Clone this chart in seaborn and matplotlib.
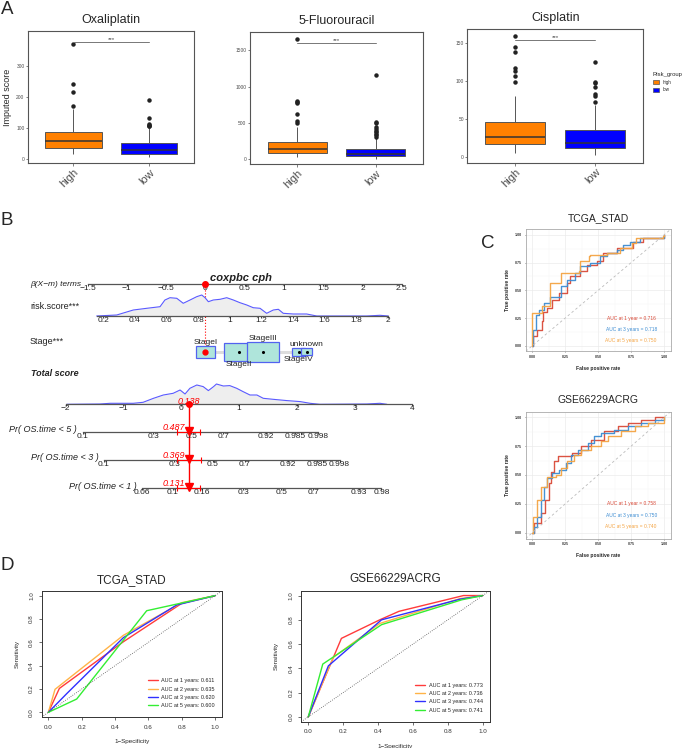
import matplotlib
matplotlib.use("Agg")
import matplotlib.pyplot as plt
import numpy as np
import pandas as pd
import seaborn as sns
from matplotlib.patches import Patch, Rectangle
from matplotlib.ticker import NullLocator

sns.set_theme(style="white")
plt.rcParams["font.family"] = ["Liberation Sans", "DejaVu Sans"]

W, H = 685, 748

# %% data -- panel A (whisker low, Q1, median, Q3, whisker high) + outliers
groups = ["high", "low"]
drugs = ["Oxaliplatin", "5-Fluorouracil", "Cisplatin"]
oxa_high = [15, 34, 57, 86, 160]
oxa_high_out = [171, 217, 241, 370]
oxa_low = [5, 17, 28, 52, 100]
oxa_low_out = [106, 108, 110, 113, 133, 190]
fu_high = [27, 87, 142, 238, 449]
fu_high_out = [500, 530, 620, 770, 790, 800, 1650]
fu_low = [8, 41, 69, 142, 290]
fu_low_out = [310, 330, 350, 370, 390, 420, 440, 500, 520, 1160]
cis_high = [5, 17, 27, 46, 80]
cis_high_out = [99, 107, 113, 117, 139, 145, 160]
cis_low = [2, 12, 19, 35, 68]
cis_low_out = [72, 81, 83, 92, 97, 99, 125]
sig_y = [378, 1600, 154]
a_yticks = [[0, 100, 200, 300], [0, 500, 1000, 1500], [0, 50, 100, 150]]
a_ylims = [(-13, 413), (-65, 1749), (-7.5, 168.5)]

# %% data -- panel B nomogram
beta_ticks = [-1.5, -1, -0.5, 0, 0.5, 1, 1.5, 2, 2.5]
beta_labels = ["\u22121.5", "\u22121", "\u22120.5", "0", "0.5", "1", "1.5", "2", "2.5"]
risk_ticks = [0.2, 0.4, 0.6, 0.8, 1.0, 1.2, 1.4, 1.6, 1.8, 2.0]
risk_labels = ["0.2", "0.4", "0.6", "0.8", "1", "1.2", "1.4", "1.6", "1.8", "2"]
risk_x = [0.158, 0.285, 0.39, 0.475, 0.559, 0.59, 0.622, 0.665, 0.706, 0.749, 0.791,
          0.823, 0.844, 0.865, 0.896, 0.939, 0.981, 1.023, 1.065, 1.108, 1.149, 1.192,
          1.234, 1.276, 1.308, 1.339, 1.403, 1.487, 1.551, 1.867, 1.951, 2.004]
risk_dens = [0, 1.0, 6, 7.7, 9.3, 16, 18.3, 17.7, 12.7, 16, 19.3, 21, 18.3, 14.3, 16,
             16.7, 18.3, 16, 13.3, 11, 8.3, 7.7, 2.7, 6, 6.7, 2.7, 2, 2, 0, 0, 0.7, 0]
stage_levels = ["StageI", "StageII", "StageIII", "StageIV", "unknown"]
stage_beta = [0.0, 0.43, 0.735, 1.19, 1.29]
stage_n = [57, 139, 162, 25, 19]
total_ticks = [-2, -1, 0, 1, 2, 3, 4]
total_labels = ["\u22122", "\u22121", "0", "1", "2", "3", "4"]
total_x = [-1.98, -1.41, -1.23, -0.83, -0.66, -0.48, -0.31, -0.14, -0.02, 0.066, 0.15,
           0.27, 0.38, 0.47, 0.56, 0.61, 0.73, 0.84, 0.96, 1.07, 1.19, 1.31, 1.42, 1.59,
           1.83, 2.06, 2.23, 2.40, 3.21, 3.44, 3.56]
total_dens = [0, 0.3, 1, 1, 2, 6, 9.3, 11, 14.3, 10.3, 16, 19.3, 17.7, 13.7, 17.7, 20.3,
              18.3, 18.7, 16, 12.7, 9.3, 9.3, 6, 5, 3.7, 2.7, 1, 0, 0.3, 1, 0]
pt_beta = 0.0
pt_total = 0.138
pr_years = [5, 3, 1]
pr_pred = [0.487, 0.369, 0.131]
pr_lo = [0.42, 0.31, 0.107]
pr_hi = [0.55, 0.43, 0.156]
pr5_ticks = [0.1, 0.3, 0.5, 0.7, 0.92, 0.985, 0.998]
pr3_ticks = [0.1, 0.3, 0.5, 0.7, 0.92, 0.985, 0.998]
pr1_ticks = [0.06, 0.1, 0.16, 0.3, 0.5, 0.7, 0.93, 0.98]

# %% data -- panel C time-dependent ROC (timeROC style)
tcga_fpr1 = [0, 0.008, 0.038, 0.075, 0.083, 0.113, 0.15, 0.2, 0.264, 0.289, 0.364, 0.414, 0.49, 0.54, 0.64, 0.766, 0.84, 1.0]
tcga_tpr1 = [0, 0.084, 0.144, 0.219, 0.300, 0.339, 0.414, 0.474, 0.565, 0.625, 0.670, 0.730, 0.760, 0.835, 0.880, 0.931, 0.976, 1.0]
tcga_fpr3 = [0, 0.008, 0.025, 0.05, 0.088, 0.138, 0.214, 0.264, 0.327, 0.364, 0.44, 0.515, 0.565, 0.64, 0.69, 0.74, 0.816, 1.0]
tcga_tpr3 = [0, 0.144, 0.279, 0.324, 0.384, 0.444, 0.535, 0.595, 0.655, 0.715, 0.745, 0.805, 0.835, 0.865, 0.91, 0.94, 0.97, 1.0]
tcga_fpr5 = [0, 0, 0.075, 0.075, 0.138, 0.138, 0.214, 0.214, 0.352, 0.364, 0.427, 0.44, 0.565, 0.665, 0.754, 0.79, 0.99, 1.0]
tcga_tpr5 = [0, 0.294, 0.294, 0.354, 0.354, 0.565, 0.565, 0.655, 0.670, 0.760, 0.805, 0.820, 0.835, 0.880, 0.925, 0.976, 0.994, 1.0]
acrg_fpr1 = [0, 0.013, 0.063, 0.1, 0.127, 0.14, 0.165, 0.195, 0.279, 0.305, 0.368, 0.445, 0.547, 0.649, 0.725, 0.827, 0.929, 1.0]
acrg_tpr1 = [0, 0.08, 0.168, 0.284, 0.43, 0.53, 0.617, 0.667, 0.667, 0.69, 0.748, 0.806, 0.878, 0.922, 0.95, 0.98, 1.0, 1.0]
acrg_fpr3 = [0, 0.013, 0.038, 0.063, 0.089, 0.114, 0.152, 0.203, 0.254, 0.292, 0.343, 0.42, 0.47, 0.522, 0.623, 0.725, 0.827, 0.929, 1.0]
acrg_tpr3 = [0, 0.052, 0.139, 0.284, 0.4, 0.472, 0.516, 0.545, 0.603, 0.675, 0.719, 0.777, 0.835, 0.864, 0.893, 0.928, 0.951, 0.974, 1.0]
acrg_fpr5 = [0, 0.008, 0.038, 0.063, 0.114, 0.178, 0.216, 0.267, 0.318, 0.368, 0.445, 0.522, 0.572, 0.674, 0.776, 0.878, 1.0]
acrg_tpr5 = [0, 0.139, 0.284, 0.4, 0.487, 0.501, 0.559, 0.617, 0.675, 0.719, 0.748, 0.791, 0.835, 0.878, 0.922, 0.951, 1.0]
tcga_auc_c = ["AUC at 1 year = 0.716", "AUC at 3 years = 0.718", "AUC at 5 years = 0.750"]
acrg_auc_c = ["AUC at 1 year = 0.758", "AUC at 3 years = 0.750", "AUC at 5 years = 0.740"]

# %% data -- panel D survivalROC curves
d_tcga_fpr = [[0, 0.066, 0.45, 0.80, 1], [0, 0.04, 0.45, 0.80, 1], [0, 0.11, 0.45, 0.77, 1], [0, 0.17, 0.59, 1]]
d_tcga_tpr = [[0, 0.205, 0.605, 0.934, 1], [0, 0.197, 0.66, 0.94, 1], [0, 0.16, 0.64, 0.92, 1], [0, 0.114, 0.871, 1]]
d_acrg_fpr = [[0, 0.19, 0.41, 0.52, 0.89, 1], [0, 0.143, 0.41, 0.87, 1], [0, 0.115, 0.42, 0.87, 1], [0, 0.083, 0.42, 0.88, 1]]
d_acrg_tpr = [[0, 0.647, 0.80, 0.87, 1.0, 1], [0, 0.49, 0.77, 0.975, 1], [0, 0.42, 0.80, 0.97, 1], [0, 0.435, 0.76, 0.965, 1]]
d_years = [1, 2, 3, 5]
d_tcga_auc = [0.611, 0.635, 0.620, 0.600]
d_acrg_auc = [0.773, 0.736, 0.744, 0.741]

fig = plt.figure(figsize=(W / 100, H / 100), dpi=100)


def px_axes(x0, y0, x1, y1):
    return fig.add_axes([x0 / W, 1 - y1 / H, (x1 - x0) / W, (y1 - y0) / H])


def expand(stats, outliers):
    # sample whose quartiles / whiskers reproduce the box summary
    lo, q1, med, q3, hi = stats
    m = len(outliers) + 2
    return ([lo] + [q1] * m + [med] * m + [q3] * m + [q3] * (m - len(outliers) - 1)
            + [hi] + list(outliers))


# %% panel A
pal = {"high": "#FF8000", "low": "#0000FF"}
box_pos = [(28, 31, 194.3, 163), (250, 32.3, 422.7, 164), (467.3, 29.3, 643.3, 162.7)]
box_data = [(oxa_high, oxa_high_out, oxa_low, oxa_low_out),
            (fu_high, fu_high_out, fu_low, fu_low_out),
            (cis_high, cis_high_out, cis_low, cis_low_out)]
for i, drug in enumerate(drugs):
    hs, ho, ls, lo = box_data[i]
    hv, lv = expand(hs, ho), expand(ls, lo)
    df = pd.DataFrame({"group": ["high"] * len(hv) + ["low"] * len(lv), "score": hv + lv})
    ax = px_axes(*box_pos[i])
    sns.boxplot(data=df, x="group", y="score", hue="group", order=groups, hue_order=groups,
                palette=pal, saturation=1, width=0.75, dodge=False, linecolor="#555555",
                linewidth=0.7,
                flierprops=dict(marker="o", markersize=2.2, markerfacecolor="#222222",
                                markeredgecolor="#222222"),
                medianprops=dict(color="#333333", linewidth=1.1),
                capprops=dict(linewidth=0), legend=False, ax=ax)
    ax.plot([0, 1], [sig_y[i], sig_y[i]], color="#777777", lw=0.7)
    ax.text(0.5, sig_y[i], "***", ha="center", va="bottom", fontsize=4.5, color="#444444")
    ax.set_xlim(-0.6, 1.6)
    ax.set_ylim(*a_ylims[i])
    ax.set_yticks(a_yticks[i], [str(t) for t in a_yticks[i]])
    ax.set_xticks([0, 1], groups, rotation=45, ha="right", rotation_mode="anchor")
    ax.tick_params(axis="x", bottom=True, length=2, width=0.5, labelsize=8, colors="#4D4D4D", pad=1)
    ax.tick_params(axis="y", left=True, length=1.5, width=0.5, labelsize=3.5, colors="#4D4D4D", pad=1)
    for s in ax.spines.values():
        s.set_color("#555555")
        s.set_linewidth(0.8)
    ax.set_xlabel("")
    ax.set_ylabel("Imputed score" if i == 0 else "", fontsize=6.5, labelpad=3)
    ax.set_title(drug, fontsize=9, pad=6)

handles = [Patch(facecolor=pal[g], edgecolor="#555555", linewidth=0.5) for g in groups]
leg = fig.legend(handles, groups, title="Risk_group", loc="upper left",
                 bbox_to_anchor=(651 / W, 1 - 70 / H), frameon=False, fontsize=3.3,
                 title_fontsize=4.2, handlelength=1.4, handleheight=1.0, labelspacing=0.6,
                 borderaxespad=0.2, borderpad=0.2)
leg._legend_box.align = "left"

# %% panel B nomogram
BETA_P = (-1.5, 87.5, 2.5, 401.7)
RISK_P = (0.2, 103.3, 2.0, 387.7)
TOT_P = (-2, 65.7, 4, 412.3)
Y_BETA, Y_RISK, Y_STAGE, Y_TOT = 284.3, 316, 351.7, 404.3
Y_PR = [432, 460, 488.3]
LINE = "#555555"


def scale_lim(v1, p1, v2, p2, x0, x1):
    s = (p2 - p1) / (v2 - v1)
    return v1 + (x0 - p1) / s, v1 + (x1 - p1) / s


def nomo_axes(y0, y1, x0=0, x1=420):
    ax = px_axes(x0, y0, x1, y1)
    ax.set_ylim(y1, y0)
    ax.patch.set_alpha(0)
    for s in ["top", "left", "right"]:
        ax.spines[s].set_visible(False)
    ax.tick_params(axis="y", left=False, labelleft=False)
    return ax


def nomo_scale(ax, yline, lo, hi, ticks, labels):
    sp = ax.spines["bottom"]
    sp.set_position(("data", yline))
    sp.set_bounds(lo, hi)
    sp.set_color(LINE)
    sp.set_linewidth(0.9)
    ax.set_xticks(ticks, labels)
    ax.xaxis.set_minor_locator(NullLocator())
    ax.tick_params(axis="x", bottom=True, length=1.5, width=0.6, pad=-1.0, labelsize=6,
                   colors="#222222")


# beta + stage rows share the beta scale
ax_b = nomo_axes(262, 370)
ax_b.set_xlim(*scale_lim(*BETA_P, 0, 420))
nomo_scale(ax_b, Y_BETA, beta_ticks[0], beta_ticks[-1], beta_ticks, beta_labels)
ax_b.plot([pt_beta, pt_beta], [Y_BETA, Y_STAGE], color="red", lw=0.8, ls=":", zorder=2)
ax_b.plot(pt_beta, Y_BETA, "o", color="red", ms=4, zorder=6, clip_on=False)
bscale = (BETA_P[3] - BETA_P[1]) / (BETA_P[2] - BETA_P[0])
ax_b.plot([stage_beta[0], stage_beta[-1]], [Y_STAGE, Y_STAGE], color="#DDDDDD", lw=2.2, zorder=1)
for k, (lev, b, n) in enumerate(zip(stage_levels, stage_beta, stage_n)):
    area = n * 3.96
    w = np.sqrt(area * 1.65)
    h = area / w
    ax_b.add_patch(Rectangle((b - w / bscale / 2, Y_STAGE - h / 2), w / bscale, h,
                             facecolor="#AFE5DB", edgecolor="#5262F0", lw=0.9, zorder=3))
    if k % 2 == 0:
        ax_b.text(b, Y_STAGE - h / 2 - 0.3, lev, ha="center", va="bottom", fontsize=6, color="#222222", zorder=5)
    else:
        ax_b.text(b, Y_STAGE + h / 2 + 0.3, lev, ha="center", va="top", fontsize=6, color="#222222", zorder=5)
ax_b.scatter(stage_beta, [Y_STAGE] * len(stage_beta), s=1.5, color="black", zorder=4)
ax_b.plot(pt_beta, Y_STAGE, "o", color="red", ms=3.5, zorder=6)

# risk score density row
ax_r = nomo_axes(290, 326)
ax_r.set_xlim(*scale_lim(*RISK_P, 0, 420))
nomo_scale(ax_r, Y_RISK, risk_x[0], risk_ticks[-1], risk_ticks, risk_labels)
ax_r.fill_between(risk_x, [Y_RISK - d for d in risk_dens], Y_RISK, color="#EEEEEE", lw=0)
ax_r.plot(risk_x, [Y_RISK - d for d in risk_dens], color="#5A5AFF", lw=0.8)

# total score row
ax_t = nomo_axes(378, 495)
ax_t.set_xlim(*scale_lim(*TOT_P, 0, 420))
nomo_scale(ax_t, Y_TOT, total_ticks[0], total_ticks[-1], total_ticks, total_labels)
ax_t.fill_between(total_x, [Y_TOT - d for d in total_dens], Y_TOT, color="#EEEEEE", lw=0)
ax_t.plot(total_x, [Y_TOT - d for d in total_dens], color="#5A5AFF", lw=0.8)
ax_t.plot([pt_total, pt_total], [Y_TOT, Y_PR[-1]], color="red", lw=1, zorder=3)
ax_t.plot(pt_total, Y_TOT, "o", color="red", ms=4, zorder=6)
ax_t.annotate(f"{pt_total:.3f}", (pt_total, Y_TOT), xytext=(0, 2), textcoords="offset points",
              ha="center", va="center", color="red", style="italic", fontsize=6.5, zorder=7)


def cll(p):
    return np.log(-np.log1p(-p))


pr_tick_sets = [pr5_ticks, pr3_ticks, pr1_ticks]
pr_extent = [(10, 345), (10, 365), (10, 415)]
for j, yr in enumerate(pr_years):
    c = cll(pr_pred[j]) - pt_total

    def fwd(p, c=c):
        p = np.clip(p, 1e-12, 1 - 1e-12)
        return np.log(-np.log1p(-p)) - c

    def inv(t, c=c):
        return -np.expm1(-np.exp(t + c))

    x0, x1 = pr_extent[j]
    y = Y_PR[j]
    ax = nomo_axes(y - 14, y + 10, x0, x1)
    ax.set_xscale("function", functions=(fwd, inv))
    t0, t1 = scale_lim(*TOT_P, x0, x1)
    ax.set_xlim(inv(t0), inv(t1))
    tk = pr_tick_sets[j]
    nomo_scale(ax, y, tk[0], tk[-1], tk, [f"{t:g}" for t in tk])
    ax.errorbar(pr_pred[j], y, xerr=[[pr_pred[j] - pr_lo[j]], [pr_hi[j] - pr_pred[j]]],
                fmt="none", ecolor="red", elinewidth=0.8, capsize=2.5, capthick=0.8, zorder=4)
    ax.plot(pr_pred[j], y - 1, marker="v", color="red", ms=5.5, zorder=5)
    ax.annotate(f"{pr_pred[j]:.3f}", (pr_pred[j], y), xytext=(-3, 0), textcoords="offset points",
                ha="right", va="bottom", color="red", style="italic", fontsize=6.5)
    ax.annotate(f"Pr( OS.time < {yr} )", (tk[0], y), xytext=(-4, 1.5), textcoords="offset points",
                ha="right", va="center", style="italic", fontsize=6.5, color="#222222")

fig.text(30 / W, 1 - Y_BETA / H, "\u03b2(X\u2212m) terms", style="italic", fontsize=6, va="center", color="#222222")
fig.text(30 / W, 1 - 306.7 / H, "risk.score***", fontsize=6.5, va="center", color="#222222")
fig.text(30 / W, 1 - 341.7 / H, "Stage***", fontsize=6.5, va="center", color="#222222")
fig.text(31 / W, 1 - 373.7 / H, "Total score", fontsize=6.5, va="center", style="italic",
         fontweight="bold", color="#222222")
fig.text(241 / W, 1 - 277.7 / H, "coxpbc cph", fontsize=8, ha="center", va="center",
         style="italic", fontweight="bold", color="#222222")

# %% panel C
roc_cols = ["#D94A38", "#3C8CD2", "#F4A443"]


def ggroc(ax, curves, aucs, title):
    for (f, t), col in zip(curves, roc_cols):
        sns.lineplot(x=f, y=t, ax=ax, color=col, lw=1, estimator=None, sort=False,
                     drawstyle="steps-post", alpha=0.95)
    ax.axline((0, 0), slope=1, ls=(0, (3, 3)), color="#BBBBBB", lw=0.6)
    ax.set_xlim(-0.05, 1.05)
    ax.set_ylim(-0.05, 1.05)
    ticks = [0, 0.25, 0.5, 0.75, 1]
    labs = ["0.00", "0.25", "0.50", "0.75", "1.00"]
    ax.set_xticks(ticks, labs, fontweight="bold")
    ax.set_yticks(ticks, labs, fontweight="bold")
    ax.set_xticks([0.125, 0.375, 0.625, 0.875], minor=True)
    ax.set_yticks([0.125, 0.375, 0.625, 0.875], minor=True)
    ax.grid(which="major", color="#EBEBEB", lw=0.5)
    ax.grid(which="minor", color="#F5F5F5", lw=0.3)
    ax.set_axisbelow(True)
    ax.tick_params(which="major", bottom=True, left=True, length=1, width=0.4, labelsize=2.6,
                   colors="#333333", pad=1.5)
    ax.tick_params(which="minor", bottom=False, left=False)
    for s in ax.spines.values():
        s.set_color("#AAAAAA")
        s.set_linewidth(0.6)
    ax.set_xlabel("False positive rate", fontsize=3.6, fontweight="bold", labelpad=3)
    ax.set_ylabel("True positive rate", fontsize=3.6, fontweight="bold", labelpad=4)
    ax.set_title(title, fontsize=7.5, pad=6)
    for k, (txt, col) in enumerate(zip(aucs, roc_cols)):
        ax.text(0.75, 0.25 - 0.1 * k, txt, color=col, fontsize=3.5, ha="center", va="center")


ax_c1 = px_axes(525.7, 229.3, 670.7, 351.3)
ggroc(ax_c1, [(tcga_fpr1, tcga_tpr1), (tcga_fpr3, tcga_tpr3), (tcga_fpr5, tcga_tpr5)], tcga_auc_c, "TCGA_STAD")
ax_c2 = px_axes(525.7, 411.5, 670.7, 538.5)
ggroc(ax_c2, [(acrg_fpr1, acrg_tpr1), (acrg_fpr3, acrg_tpr3), (acrg_fpr5, acrg_tpr5)], acrg_auc_c, "GSE66229ACRG")

# %% panel D
d_cols = ["#FF3B3B", "#FFB347", "#3030FF", "#33EE33"]


def rroc(ax, fprs, tprs, aucs, title):
    for f, t, col, yr, a in zip(fprs, tprs, d_cols, d_years, aucs):
        sns.lineplot(x=f, y=t, ax=ax, color=col, lw=1, estimator=None, sort=False,
                     label=f"AUC at {yr} years: {a:.3f}")
    ax.axline((0, 0), slope=1, ls=":", color="#555555", lw=0.6)
    ax.set_xlim(-0.04, 1.04)
    ax.set_ylim(-0.04, 1.04)
    ticks = [0, 0.2, 0.4, 0.6, 0.8, 1.0]
    labs = [f"{t:.1f}" for t in ticks]
    ax.set_xticks(ticks, labs)
    ax.set_yticks(ticks, labs, rotation=90, va="center")
    ax.tick_params(bottom=True, left=True, length=2.5, width=0.5, labelsize=4.5,
                   colors="#333333", pad=3)
    for s in ax.spines.values():
        s.set_color("#333333")
        s.set_linewidth(0.7)
    ax.set_xlabel("1\u2212Specificity", fontsize=4.5, labelpad=7)
    ax.set_ylabel("Sensitivity", fontsize=4.5, labelpad=7)
    ax.set_title(title, fontsize=8.5, pad=6)
    ax.legend(loc="lower right", bbox_to_anchor=(0.99, 0.03), frameon=False, fontsize=4,
              handlelength=1.8, handletextpad=0.6, labelspacing=0.6)


ax_d1 = px_axes(41.7, 591, 221.7, 717)
rroc(ax_d1, d_tcga_fpr, d_tcga_tpr, d_tcga_auc, "TCGA_STAD")
ax_d2 = px_axes(301.3, 590.7, 489.7, 721.7)
rroc(ax_d2, d_acrg_fpr, d_acrg_tpr, d_acrg_auc, "GSE66229ACRG")

# %% panel letters
for lab, x, y in [("A", 1, 1), ("B", 0, 212), ("C", 481, 235), ("D", 0, 557)]:
    fig.text(x / W, 1 - y / H, lab, fontsize=13.5, va="top", ha="left")

fig.savefig("out.png", dpi=100)
